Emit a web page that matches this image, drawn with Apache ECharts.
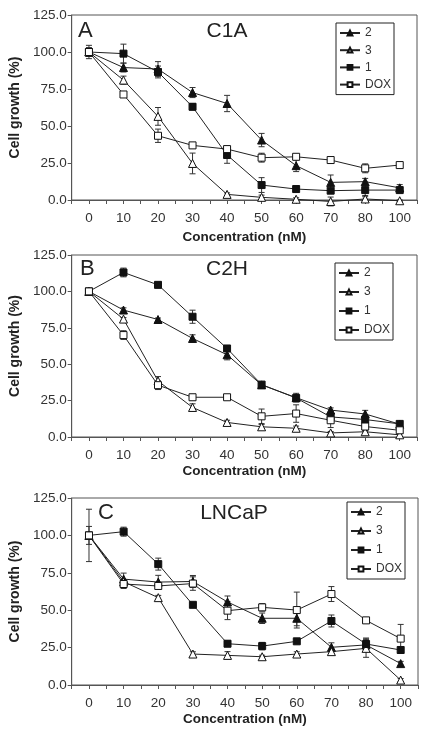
<!DOCTYPE html>
<html><head><meta charset="utf-8">
<script src="https://cdn.jsdelivr.net/npm/echarts@6/dist/echarts.min.js"></script>
<style>html,body{margin:0;padding:0;background:#fff}#c{width:431px;height:734px}</style>
</head><body><div id="c"></div>
<script>
const xCats = ['0','10','20','30','40','50','60','70','80','100'];
const yTickMin = 0, yTickMax = 125, yTickStep = 25;
const seriesNames = ['2','3','1','DOX'];

// Panel A: C1A
const a2 = [100, 89.5, 88.5, 72.6, 65.2, 40.5, 23.2, 11.9, 12.4, 8.2];
const a2e = [3, 3, 5, 3.4, 5.5, 4.5, 4, 5, 2.2, 2.2];
const a3 = [100, 81, 56.5, 24.7, 3.8, 1.8, 0.5, -1, 0.7, -0.5];
const a3e = [2, 2.7, 6, 7, 1, 1.5, 1, 3, 1.5, 0.5];
const a1 = [100, 98.9, 86.5, 63, 30.4, 10.1, 7.4, 6.3, 6.7, 6.7];
const a1e = [4.5, 6.4, 4, 2.2, 5.6, 5, 2.2, 1.5, 3.7, 1.5];
const aDox = [100, 71.3, 43.4, 36.9, 34.4, 28.6, 29.2, 27, 21.4, 23.6];
const aDoxE = [2, 1.7, 4.5, 1.5, 2, 3, 1.5, 1.5, 3, 1.5];

// Panel B: C2H
const b2 = [100, 87.2, 80.7, 67.7, 56.5, 35.8, 27, 18.5, 15.8, 8.8];
const b2e = [1, 1.5, 1, 2.5, 3.5, 1, 3, 1.5, 2.5, 1.5];
const b3 = [100, 81, 38.5, 20.3, 10, 7, 6, 2.8, 3.6, 1.5];
const b3e = [1, 1, 3, 2.5, 1.5, 1.5, 1.5, 1, 1, 2];
const b1 = [100, 113, 104.5, 82.6, 60.8, 36, 26.8, 13.8, 12, 9];
const b1e = [1.5, 3, 2, 4.5, 1.5, 1.5, 1.5, 2, 2, 1.5];
const bDox = [100, 70, 35.6, 27.3, 27.3, 14.2, 16.1, 11.5, 7.2, 4.6];
const bDoxE = [1, 3, 3, 1, 1, 5, 6, 5, 3, 2];

// Panel C: LNCaP
const c2 = [100, 70.8, 68.8, 69.2, 55.5, 44.6, 44.6, 25.2, 26.8, 14.3];
const c2e = [6, 4, 4.5, 4, 4, 3.5, 5, 3, 4, 1.5];
const c3 = [100, 69, 58.4, 20.7, 19.8, 18.9, 20.7, 22.3, 24.5, 3.3];
const c3e = [1, 1, 1.5, 1.5, 2.5, 1, 1.5, 1.5, 6, 1];
const c1 = [100, 102.5, 80.8, 53.6, 27.6, 26, 29.2, 42.8, 27.4, 23.4];
const c1e = [2, 3, 4, 1.5, 2, 2.5, 1, 4, 4, 2];
const cDox = [100, 67.5, 66.2, 67.8, 49.7, 51.9, 50.1, 60.8, 43.2, 31];
const cDoxE = [17.5, 3, 2, 4.5, 6, 2.5, 12, 5, 1, 9.5];

const panels = [
  {letter:'A', title:'C1A', vals:[a2,a3,a1,aDox], errs:[a2e,a3e,a1e,aDoxE]},
  {letter:'B', title:'C2H', vals:[b2,b3,b1,bDox], errs:[b2e,b3e,b1e,bDoxE]},
  {letter:'C', title:'LNCaP', vals:[c2,c3,c1,cDox], errs:[c2e,c3e,c1e,cDoxE]}
];

const layout = [
  {grid:{left:69, top:15, width:348, height:185}, legend:{left:336, top:23, gap:5.2},
   letterPos:[78,31], titlePos:[227,31], nameGap:30},
  {grid:{left:69, top:255, width:348, height:182}, legend:{left:335, top:263, gap:7},
   letterPos:[80,269], titlePos:[227,269], nameGap:27},
  {grid:{left:70, top:498, width:348, height:187}, legend:{left:347, top:502, gap:7},
   letterPos:[98,513], titlePos:[234,513], nameGap:27}
];

const FONT = 'Liberation Sans, Arial, sans-serif';
const INK = '#222';
const symbolDefs = [
  {symbol:'triangle', size:8, fill:'#111'},
  {symbol:'triangle', size:8, fill:'#fff'},
  {symbol:'rect', size:7, fill:'#111'},
  {symbol:'rect', size:7, fill:'#fff'}
];

function errRender(params, api) {
  const x = api.value(0), y = api.value(1), e = api.value(2);
  const hi = api.coord([x, y + e]);
  const lo = api.coord([x, y - e]);
  const w = 3;
  const st = {stroke: '#333', lineWidth: 1};
  return {type:'group', children:[
    {type:'line', shape:{x1:hi[0], y1:hi[1], x2:lo[0], y2:lo[1]}, style:st},
    {type:'line', shape:{x1:hi[0]-w, y1:hi[1], x2:hi[0]+w, y2:hi[1]}, style:st},
    {type:'line', shape:{x1:lo[0]-w, y1:lo[1], x2:lo[0]+w, y2:lo[1]}, style:st}
  ]};
}

const grids = [], xAxes = [], yAxes = [], legends = [], series = [], graphics = [];
panels.forEach((p, pi) => {
  const L = layout[pi];
  grids.push(Object.assign({show:true, borderColor:'#555', borderWidth:1, backgroundColor:'transparent'}, L.grid));
  xAxes.push({
    type:'value', gridIndex:pi, min:-0.5, max:9.5, interval:0.5,
    name:'Concentration (nM)', nameLocation:'middle', nameGap:L.nameGap,
    nameTextStyle:{fontFamily:FONT, fontWeight:'bold', fontSize:13.5, color:INK},
    axisLine:{show:true, onZero:false, lineStyle:{color:'#555'}},
    axisTick:{show:true, length:4, lineStyle:{color:'#555'}},
    splitLine:{show:false},
    axisLabel:{margin:11, fontFamily:FONT, fontSize:13.5, color:'#333',
      formatter: v => (Math.abs(v - Math.round(v)) < 1e-6 && xCats[Math.round(v)] !== undefined) ? xCats[Math.round(v)] : ''}
  });
  yAxes.push({
    type:'value', gridIndex:pi, min:yTickMin, max:yTickMax, interval:yTickStep,
    name:'Cell growth (%)', nameLocation:'middle', nameGap:46,
    nameTextStyle:{fontFamily:FONT, fontWeight:'bold', fontSize:14, color:INK},
    axisLine:{show:true, onZero:false, lineStyle:{color:'#555'}},
    axisTick:{show:true, length:4, lineStyle:{color:'#555'}},
    splitLine:{show:false},
    axisLabel:{margin:5, fontFamily:FONT, fontSize:13.5, color:'#333', formatter: v => v.toFixed(1)}
  });
  p.vals.forEach((vals, si) => {
    series.push({
      type:'custom', xAxisIndex:pi, yAxisIndex:pi, renderItem:errRender, z:2, silent:true,
      encode:{x:0, y:1},
      data: vals.map((v, i) => [i, v, p.errs[si][i]])
    });
  });
  p.vals.forEach((vals, si) => {
    const sd = symbolDefs[si];
    series.push({
      type:'line', name:seriesNames[si], xAxisIndex:pi, yAxisIndex:pi, z:3,
      symbol:sd.symbol, symbolSize:sd.size, showSymbol:true, clip:false,
      lineStyle:{color:INK, width:1},
      itemStyle:{color:sd.fill, borderColor:'#111', borderWidth:1},
      data: vals.map((v, i) => [i, v])
    });
  });
  legends.push({
    data: seriesNames.slice(), orient:'vertical', left:L.legend.left, top:L.legend.top,
    itemWidth:20, itemHeight:6, itemGap:L.legend.gap,
    padding:[4,3,4,3], borderColor:'#222', borderWidth:1, backgroundColor:'#fff',
    textStyle:{fontFamily:FONT, fontSize:12, color:'#333'},
    selectedMode:false
  });
  graphics.push({type:'text', left:L.letterPos[0], top:L.letterPos[1] - 11,
    style:{text:p.letter, font:'22px ' + FONT, fill:'#222'}});
  graphics.push({type:'text', x:L.titlePos[0], y:L.titlePos[1],
    style:{text:p.title, font:'21px ' + FONT, fill:'#222', textAlign:'center', textVerticalAlign:'middle'}});
});

const chart = echarts.init(document.getElementById('c'), null, {renderer:'canvas'});
chart.setOption({
  animation:false,
  backgroundColor:'#fff',
  grid:grids, xAxis:xAxes, yAxis:yAxes, legend:legends, series:series, graphic:graphics
});
</script>
</body></html>
